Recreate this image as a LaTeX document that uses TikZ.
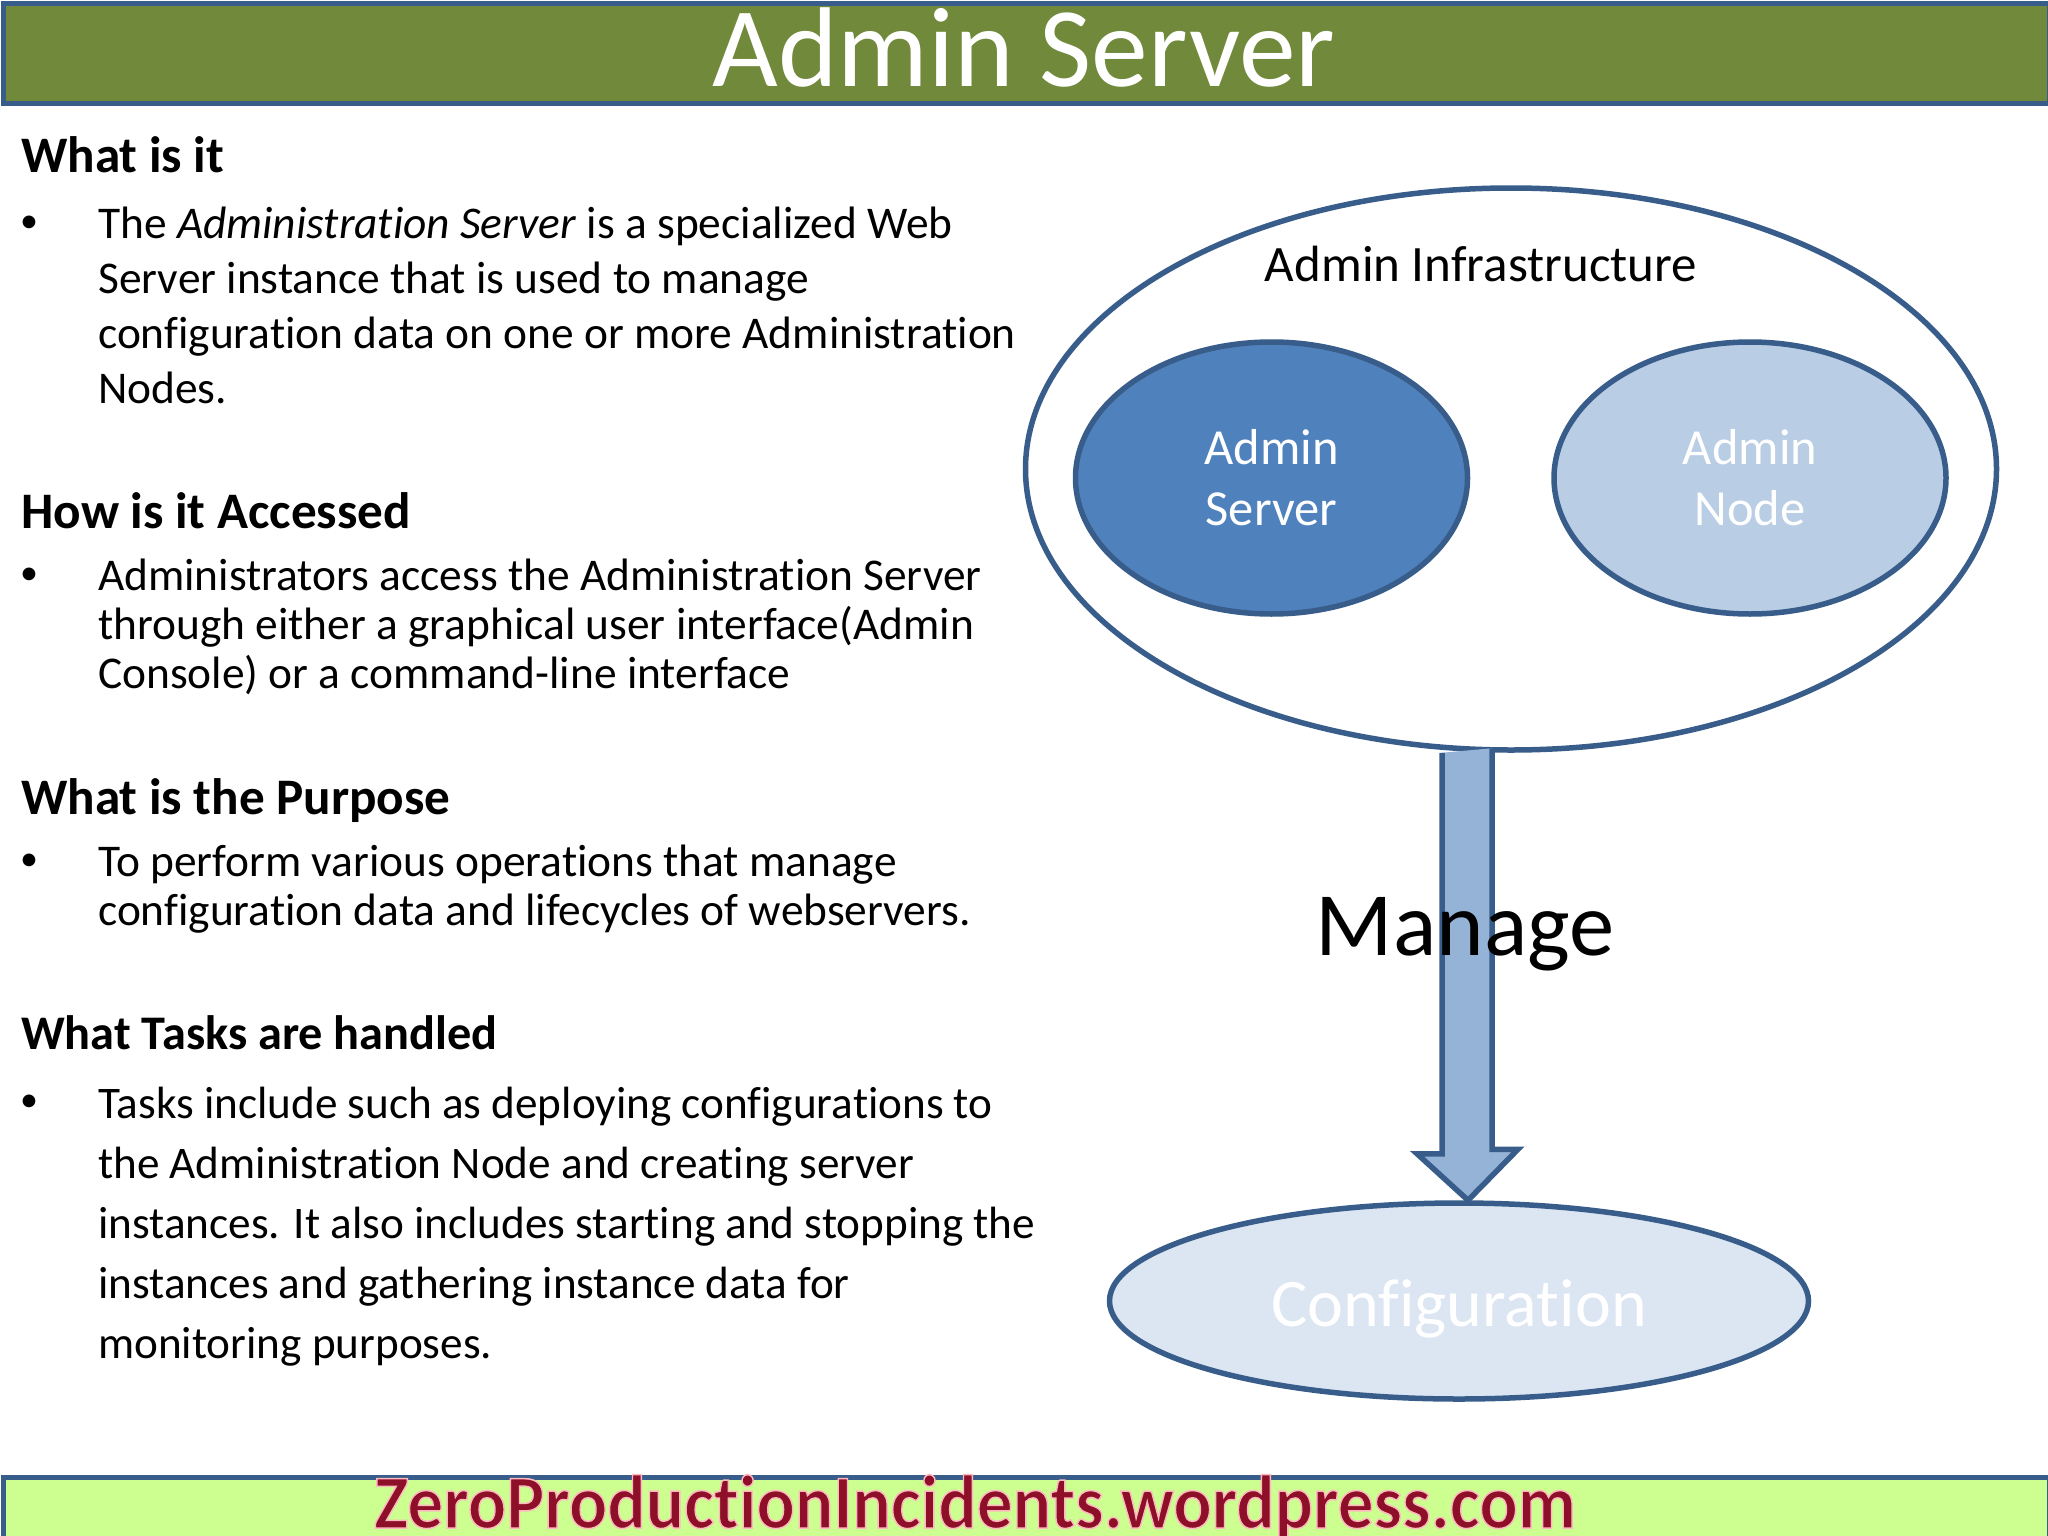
\documentclass[tikz,border=0pt]{standalone}
\usepackage{fontspec}
\setmainfont[Ligatures=NoCommon]{Carlito}
\usetikzlibrary{positioning,calc,shapes.geometric}
\definecolor{edgeblue}{HTML}{385D8A}
\definecolor{titlegreen}{HTML}{71893A}
\definecolor{footgreen}{HTML}{CCFF8F}
\definecolor{serverblue}{HTML}{4F81BD}
\definecolor{nodeblue}{HTML}{B9CDE5}
\definecolor{configblue}{HTML}{DCE6F2}
\definecolor{arrowblue}{HTML}{95B3D7}
\definecolor{footred}{HTML}{8E1028}
\tikzset{
  bar/.style={draw=edgeblue,line width=5pt,anchor=north west,inner sep=0pt},
  oval/.style={ellipse,draw=edgeblue,line width=5.5pt,inner sep=0pt,align=center,text=white},
  heading/.style={anchor=base west,inner sep=0pt,font=\fontsize{#1}{58}\selectfont\bfseries},
  body/.style={anchor=north west,inner sep=0pt,align=left},
}
\begin{document}
\begin{tikzpicture}[x=1pt,y=-1pt]
\useasboundingbox (0,0) rectangle (2048,1536);
%title bar
\node[bar,fill=titlegreen,minimum width=2046pt,minimum height=100pt] (titlebar) at (1,1.5) {};
\node[anchor=base,inner sep=0pt,text=white,font=\fontsize{113.5}{120}\selectfont] (title) at (1024,87) {Admin Server};
%footer
\node[bar,fill=footgreen,minimum width=2046pt,minimum height=62pt] (footbar) at (1,1475) {};
\node[anchor=base,inner sep=0pt,text=footred,font=\fontsize{76}{80}\selectfont\bfseries] (foottext) at (975,1528) {\scalebox{0.941}[1]{\special{pdf:code 1 0.72 0.75 RG 1.5 w 2 Tr}ZeroProductionIncidents.wordpress.com}};
%left text
\foreach \n/\y/\s/\t in {what/172/51.2/What is it,how/528/51.2/How is it Accessed,why/814/51.2/What is the Purpose,tasks/1049/48.3/What Tasks are handled}{
  \node[heading=\s] (\n) at (21,\y) {\t};}
\foreach \n/\y in {a/224,b/576,c/862,d/1103}{
  \node[inner sep=0pt,font=\fontsize{36}{44}\selectfont] (bullet\n) at (29,\y) {•};}
\node[body,font=\fontsize{45.4}{54.8}\selectfont] (whatbody) at (98,207) {The \textit{Administration Server} is a specialized Web\\Server instance that is used to manage\\configuration data on one or more Administration\\Nodes.};
\node[body,font=\fontsize{45.4}{49}\selectfont] (howbody) at (98,559) {Administrators access the Administration Server\\through either a graphical user interface(Admin\\Console) or a command-line interface};
\node[body,font=\fontsize{45.4}{48.5}\selectfont] (whybody) at (98,845) {To perform various operations that manage\\configuration data and lifecycles of webservers.};
\node[body,font=\fontsize{45.2}{60}\selectfont] (tasksbody) at (98,1087) {Tasks include such as deploying configurations to\\the Administration Node and creating server\\instances. It also includes starting and stopping the\\instances and gathering instance data for\\monitoring purposes.};
%ellipses
\node[oval,fill=white,minimum width=971pt,minimum height=562pt] (infra) at (1511,469) {};
\node[inner sep=0pt,font=\fontsize{51}{58}\selectfont] (infralabel) at (1481,264) {Admin Infrastructure};
\node[oval,fill=serverblue,minimum width=392pt,minimum height=272pt,font=\fontsize{50.5}{61}\selectfont] (server) at (1271.5,478) {Admin\\Server};
\node[oval,fill=nodeblue,minimum width=392pt,minimum height=272pt,font=\fontsize{50.5}{61}\selectfont] (adminnode) at (1750,478) {Admin\\Node};
\node[oval,fill=configblue,minimum width=699pt,minimum height=196pt] (config) at (1459,1301) {};
\node[inner sep=0pt,text=white,font=\fontsize{68}{76}\selectfont] (configlabel) at (1459,1309) {Configuration};
%arrow
\coordinate (arrowtop) at (1468,0 |- infra.south);
\coordinate (arrowtip) at (1468,0 |- config.north);
\draw[draw=edgeblue,fill=arrowblue,line width=5.5pt] (arrowtop)++(-26,0)--++(0,401)--++(-25,0)--(arrowtip)--++(50,-51)--++(-26,0)--++(0,-401);
\node[inner sep=0pt,font=\fontsize{90.5}{100}\selectfont] (manage) at (1465,934) {Manage};
\end{tikzpicture}
\end{document}
